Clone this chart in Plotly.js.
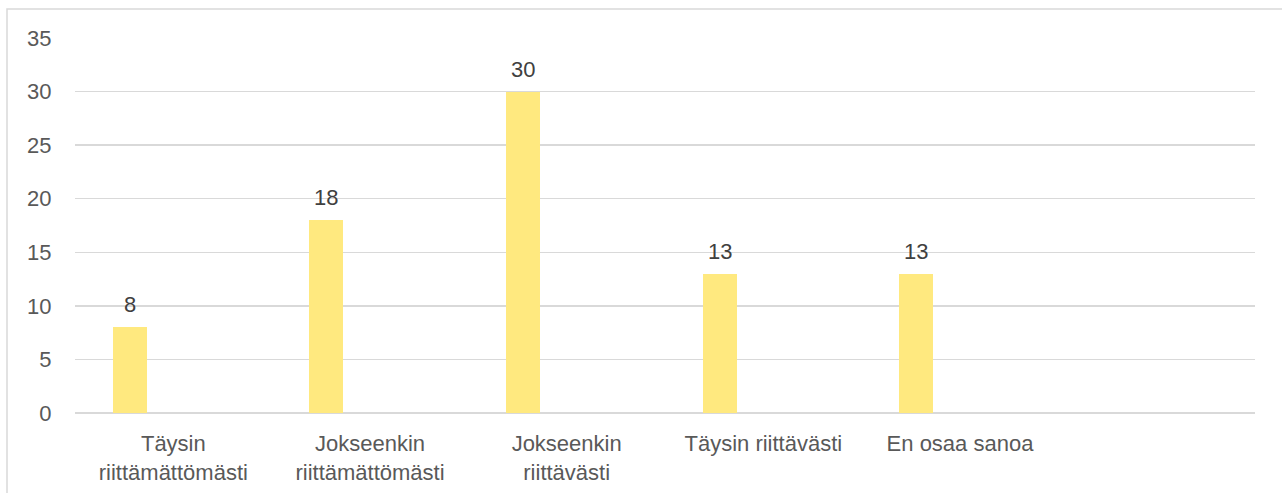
<!DOCTYPE html>
<html>
<head>
<meta charset="utf-8">
<script src="https://cdn.plot.ly/plotly-3.0.1.min.js"></script>
<style>
  html, body { margin: 0; padding: 0; background: #ffffff; }
  #chart { width: 1282px; height: 493px; }
</style>
</head>
<body>
<div id="chart"></div>
<script>
// Data
const categories = [
  "Täysin<br>riittämättömästi",
  "Jokseenkin<br>riittämättömästi",
  "Jokseenkin<br>riittävästi",
  "Täysin riittävästi",
  "En osaa sanoa"
];
const values = [8, 18, 30, 13, 13];
const yTicks = [0, 5, 10, 15, 20, 25, 30, 35];

const textColor = "#595959";
const gridColor = "#d9d9d9";
const fontFamily = "'Liberation Sans', Arial, sans-serif";
const fontSize = 22;

const trace = {
  type: "bar",
  x: categories,
  y: values,
  width: 0.173,
  offset: -0.308,
  marker: { color: "#FFE97F", line: { width: 0 } },
  hoverinfo: "skip",
  showlegend: false
};

const annotations = categories.map((c, i) => ({
  x: c,
  y: values[i],
  xref: "x",
  yref: "y",
  text: String(values[i]),
  showarrow: false,
  xanchor: "center",
  yanchor: "bottom",
  xshift: -43.6,
  yshift: 8,
  font: { family: fontFamily, size: fontSize, color: "#404040" }
}));

const layout = {
  width: 1282,
  height: 493,
  margin: { l: 75, r: 27, t: 38, b: 80, pad: 0 },
  paper_bgcolor: "#ffffff",
  plot_bgcolor: "#ffffff",
  font: { family: fontFamily, size: fontSize, color: textColor },
  bargap: 0,
  xaxis: {
    type: "category",
    categoryorder: "array",
    categoryarray: categories,
    range: [-0.5, 5.5],
    showgrid: false,
    showline: false,
    zeroline: false,
    ticks: "outside",
    ticklen: 11,
    tickcolor: "rgba(0,0,0,0)",
    tickfont: { family: fontFamily, size: fontSize, color: textColor },
    fixedrange: true
  },
  yaxis: {
    range: [0, 35],
    tickmode: "array",
    tickvals: yTicks,
    ticktext: yTicks.map(String),
    showgrid: true,
    gridcolor: gridColor,
    gridwidth: 1.4,
    zeroline: true,
    zerolinecolor: gridColor,
    zerolinewidth: 1.6,
    showline: false,
    ticks: "outside",
    ticklen: 18,
    tickcolor: "rgba(0,0,0,0)",
    tickfont: { family: fontFamily, size: fontSize, color: textColor },
    fixedrange: true
  },
  shapes: [{
    type: "rect",
    xref: "paper",
    yref: "paper",
    x0: (7 - 75) / 1180,
    x1: 1.2,
    y0: -0.5,
    y1: (413 - 9) / 375,
    line: { color: gridColor, width: 1.5 },
    fillcolor: "rgba(0,0,0,0)",
    layer: "below"
  }],
  annotations: annotations
};

Plotly.newPlot("chart", [trace], layout, { displayModeBar: false, staticPlot: true });
</script>
</body>
</html>
